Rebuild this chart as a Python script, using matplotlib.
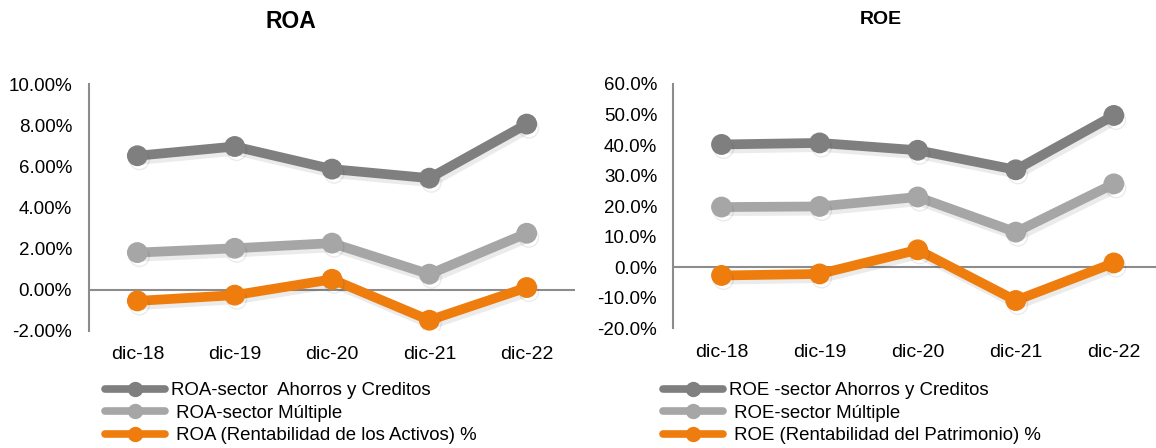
import matplotlib.pyplot as plt
import matplotlib.patheffects as pe
from matplotlib.lines import Line2D
from matplotlib.ticker import FuncFormatter

plt.rcParams['font.family'] = ['Liberation Sans', 'DejaVu Sans']

periodos = ["dic-18", "dic-19", "dic-20", "dic-21", "dic-22"]

# ROA (%)
roa_ahorros = [6.51, 6.96, 5.86, 5.42, 8.05]
roa_multiple = [1.80, 2.01, 2.26, 0.75, 2.74]
roa_entidad = [-0.55, -0.27, 0.50, -1.49, 0.10]
roa_labels = ["ROA-sector  Ahorros y Creditos", " ROA-sector Múltiple",
              " ROA (Rentabilidad de los Activos) %"]

# ROE (%)
roe_ahorros = [40.2, 40.7, 38.3, 31.9, 49.7]
roe_multiple = [19.7, 19.9, 23.0, 11.5, 27.3]
roe_entidad = [-2.7, -2.2, 5.7, -10.9, 1.4]
roe_labels = ["ROE -sector Ahorros y Creditos", " ROE-sector Múltiple",
              " ROE (Rentabilidad del Patrimonio) %"]

colores = ["#7f7f7f", "#a6a6a6", "#ee7d0e"]
sombra = [pe.SimpleLineShadow(offset=(1.5, -3), shadow_color="#000000", alpha=0.08), pe.Normal()]


def dibujar(ax, series, ylim, step, fmt, xmax, ypad):
    x = range(len(periodos))
    for vals, c in zip(series, colores):
        ax.plot(x, vals, color=c, lw=7, marker="o", ms=14,
                solid_capstyle="round", path_effects=sombra, zorder=3)
    ax.set_xlim(-0.5, xmax)
    ax.set_ylim(*ylim)
    ticks = []
    v = ylim[0]
    while v <= ylim[1] + 1e-9:
        ticks.append(v)
        v += step
    ax.set_yticks(ticks)
    ax.yaxis.set_major_formatter(FuncFormatter(lambda v, p: fmt.format(v)))
    ax.set_xticks(list(x))
    ax.set_xticklabels(periodos, fontsize=14)
    ax.axhline(0, color="#8c8c8c", lw=1.5, zorder=1)
    for s in ["top", "right", "bottom"]:
        ax.spines[s].set_visible(False)
    ax.spines["left"].set_color("#8c8c8c")
    ax.spines["left"].set_linewidth(1.5)
    ax.tick_params(axis="both", length=0, colors="#000000")
    ax.tick_params(axis="x", pad=11)
    ax.tick_params(axis="y", pad=ypad, labelsize=13.5)


def leyenda(labels, x0):
    handles = [Line2D([], [], color=c, lw=5.5, marker="o", ms=10, solid_capstyle="round")
               for c in colores]
    fig.legend(handles=handles, labels=labels, loc="upper left",
               bbox_to_anchor=(x0 / 1156, 1 - 382 / 448),
               frameon=False, fontsize=13.4, borderpad=0, borderaxespad=0,
               handlelength=3.2, handletextpad=0.35, labelspacing=0.3)


fig = plt.figure(figsize=(11.56, 4.48), dpi=100)

ax1 = fig.add_axes([88.7 / 1156, 0.2618, 486.7 / 1156, 0.5507])
dibujar(ax1, [roa_ahorros, roa_multiple, roa_entidad], (-2, 10), 2, "{:.2f}%", 4.5, 12)
fig.text(291 / 1156, 1 - 21 / 448, "ROA", ha="center", va="center",
         fontsize=16.5, fontweight="bold")

ax2 = fig.add_axes([672.5 / 1156, 0.2672, 483.5 / 1156, 0.5453])
dibujar(ax2, [roe_ahorros, roe_multiple, roe_entidad], (-20, 60), 10, "{:.1f}%", 4.43, 11)
fig.text(881 / 1156, 1 - 20 / 448, "ROE", ha="center", va="center",
         fontsize=14, fontweight="bold")

leyenda(roa_labels, 105)
leyenda(roe_labels, 663)

fig.savefig("out.png", dpi=100)
